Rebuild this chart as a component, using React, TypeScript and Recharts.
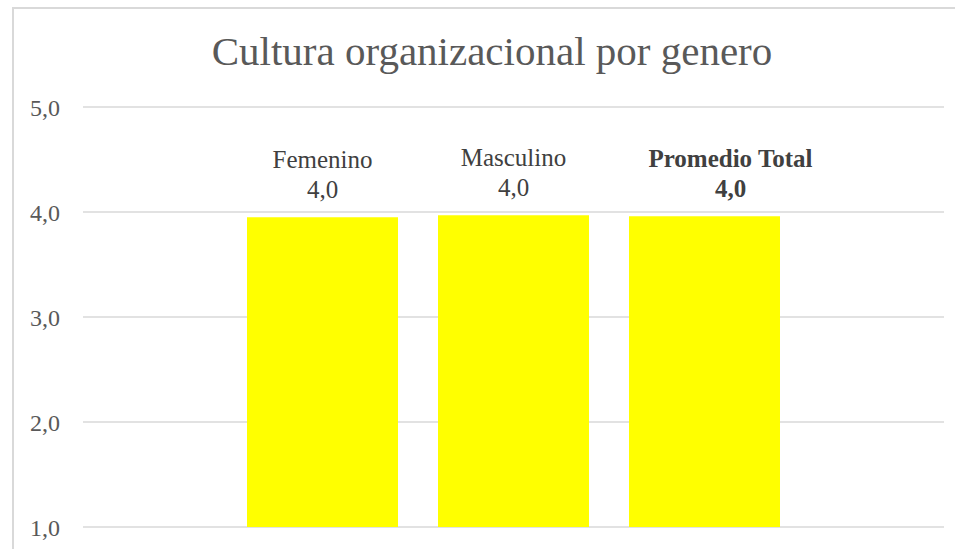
import React from 'react';
import { BarChart, Bar, XAxis, YAxis, CartesianGrid } from 'recharts';

// categories and bar values
const categories = ['Femenino', 'Masculino', 'Promedio Total'];
const scores = [3.95, 3.97, 3.96];
const yTicks = [1, 2, 3, 4, 5];

const data = categories.map((name, i) => ({ name, score: scores[i] }));

const FONT = '"Liberation Serif", "Times New Roman", serif';

const fmt = (v: number) => (Math.round(v * 10) / 10).toFixed(1).replace('.', ',');

const BarLabel = (props: any) => {
  const { x, y, width, value, index } = props;
  const isTotal = index === categories.length - 1;
  // the total label sits a bit to the right of its bar in the original
  const cx = Number(x) + Number(width) / 2 + (isTotal ? 26 : 0);
  const top = Number(y);
  return (
    <g>
      <text
        x={cx}
        y={top - 49}
        textAnchor="middle"
        fontFamily={FONT}
        fontSize={25}
        fontWeight={isTotal ? 700 : 400}
        fill="#404040"
      >
        {categories[index]}
      </text>
      <text
        x={cx}
        y={top - 19}
        textAnchor="middle"
        fontFamily={FONT}
        fontSize={25}
        fontWeight={isTotal ? 700 : 400}
        fill="#404040"
      >
        {fmt(Number(value))}
      </text>
    </g>
  );
};

const App: React.FC = () => {
  return (
    <div style={{ position: 'relative', width: 955, height: 549, overflow: 'hidden', background: '#fff' }}>
      <style>{`body{margin:0;overflow:hidden;}`}</style>
      {/* chart frame, only top and left edges are visible in the crop */}
      <div
        style={{
          position: 'absolute',
          left: 12,
          top: 7,
          width: 1000,
          height: 600,
          borderTop: '2px solid #d9d9d9',
          borderLeft: '2px solid #d9d9d9',
        }}
      />
      <div
        style={{
          position: 'absolute',
          left: 13,
          top: 27,
          width: 958,
          textAlign: 'center',
          fontFamily: FONT,
          fontSize: 41,
          color: '#595959',
          whiteSpace: 'nowrap',
        }}
      >
        Cultura organizacional por genero
      </div>
      <div style={{ position: 'absolute', left: 0, top: 0 }}>
        <BarChart
          width={955}
          height={549}
          data={data}
          margin={{ top: 107, right: 11, bottom: 22, left: 0 }}
        >
          <CartesianGrid vertical={false} stroke="#d9d9d9" strokeWidth={1.5} />
          <XAxis dataKey="name" hide padding={{ left: 144, right: 144 }} />
          <YAxis
            width={83}
            domain={[1, 5]}
            ticks={yTicks}
            allowDataOverflow
            axisLine={false}
            tickLine={false}
            tickMargin={17}
            tickFormatter={(v: number) => fmt(v)}
            tick={{ fontFamily: FONT, fontSize: 24, fill: '#595959' }}
          />
          <Bar
            dataKey="score"
            fill="#ffff00"
            barSize={151}
            isAnimationActive={false}
            label={(p: any) => <BarLabel {...p} />}
          />
        </BarChart>
      </div>
    </div>
  );
};

export default App;
